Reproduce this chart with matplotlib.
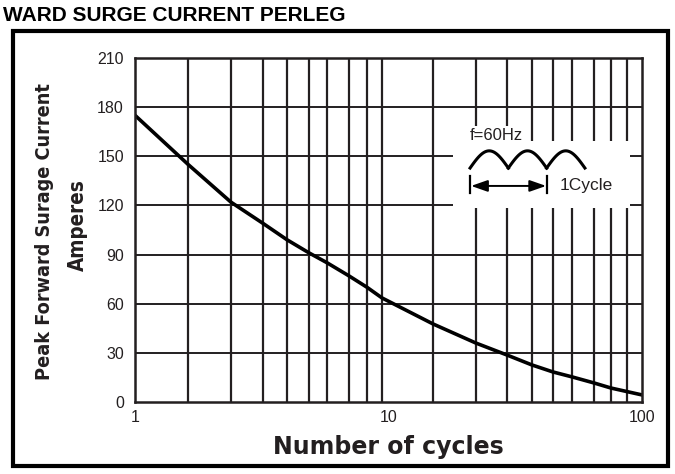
import numpy as np
import matplotlib
matplotlib.use("Agg")
import matplotlib.pyplot as plt
from matplotlib.patches import Rectangle

# surge current vs number of cycles
cycles = [1, 1.62, 2.39, 3.2, 3.98, 4.86, 5.72, 6.98, 8.23, 9.43,
          15.0, 22.1, 29.3, 36.8, 44.6, 53.0, 64.7, 75.5, 100]
amps = [175, 145, 122, 109, 99, 91, 85, 77, 70, 63.5,
        47.6, 36, 28.7, 22.6, 18.3, 15.3, 11.6, 8.5, 4.3]

# vertical grid lines as drawn on the sheet (not a clean log grid)
grid_cycles = [1.62, 2.39, 3.2, 3.98, 4.86, 5.72, 6.98, 8.23, 9.43,
               15.0, 22.1, 29.3, 36.8, 44.6, 53.0, 64.7, 75.5, 87.3]
grid_amps = [30, 60, 90, 120, 150, 180]

y_ticks = [0, 30, 60, 90, 120, 150, 180, 210]
x_ticks = [1, 10, 100]
x_labels = ["1", "10", "100"]

ink = "#231f20"

fig = plt.figure(figsize=(6.75, 4.74), dpi=100)
ax = fig.add_axes([0.2, 0.152, 0.751, 0.7257])

ax.set_xscale("log")
ax.set_xlim(1, 100)
ax.set_ylim(0, 210)

for g in grid_cycles:
    ax.axvline(g, color=ink, lw=1.6, zorder=1)
for g in grid_amps:
    ax.axhline(g, color=ink, lw=1.4, zorder=1)

ax.plot(cycles, amps, color="black", lw=2.6, zorder=5)

# inset: full-wave rectified sketch, 60 Hz
ax.add_patch(Rectangle((0.627, 0.565), 0.35, 0.194, transform=ax.transAxes,
                       facecolor="white", edgecolor="none", zorder=2))
ax.text(0.661, 0.776, "f=60Hz", transform=ax.transAxes, fontsize=12,
        family="Liberation Sans", color=ink, va="center", ha="left", zorder=3,
        bbox=dict(facecolor="white", edgecolor="none", pad=1.5))
t = np.linspace(0, 1, 40)
hump_w = 0.0755
for k in range(3):
    x0 = 0.661 + k * hump_w
    ax.plot(x0 + t * hump_w, 0.680 + 0.05 * np.sin(np.pi * t),
            transform=ax.transAxes, color="black", lw=2.2, zorder=3)
ax.plot([0.661, 0.661], [0.608, 0.657], transform=ax.transAxes,
        color="black", lw=1.6, zorder=3)
ax.plot([0.813, 0.813], [0.608, 0.657], transform=ax.transAxes,
        color="black", lw=1.6, zorder=3)
ax.annotate("", xy=(0.811, 0.628), xytext=(0.663, 0.628),
            xycoords="axes fraction", textcoords="axes fraction",
            arrowprops=dict(arrowstyle="<|-|>,head_length=1.0,head_width=0.35",
                            color="black", lw=1.4, shrinkA=0, shrinkB=0),
            zorder=3)
ax.text(0.838, 0.628, "1Cycle", transform=ax.transAxes, fontsize=12.5,
        family="Liberation Sans", color=ink, va="center", ha="left", zorder=3)

ax.set_yticks(y_ticks)
ax.set_xticks(x_ticks)
ax.set_xticklabels(x_labels)
ax.xaxis.set_minor_locator(matplotlib.ticker.NullLocator())
ax.tick_params(length=0, labelsize=11.5, labelcolor=ink, pad=8)
ax.tick_params(axis="x", pad=6)
for lab in ax.get_xticklabels() + ax.get_yticklabels():
    lab.set_family("Liberation Sans")
for s in ax.spines.values():
    s.set_color(ink)
    s.set_linewidth(1.8)
    s.set_zorder(6)

ax.set_xlabel("Number of cycles", fontsize=17, fontweight="bold",
              family="DejaVu Sans", color=ink, labelpad=7)
fig.text(0.066, 0.511, "Peak Forward Surage Current", rotation=90,
         fontsize=14.2, fontweight="bold", family="DejaVu Sans", stretch="condensed",
         color=ink, ha="center", va="center")
fig.text(0.116, 0.525, "Amperes", rotation=90,
         fontsize=14.8, fontweight="bold", family="DejaVu Sans", stretch="condensed",
         color=ink, ha="center", va="center")

fig.text(0.004, 0.968, "WARD SURGE CURRENT PERLEG", fontsize=15,
         fontweight="bold", family="Liberation Sans", color="black",
         ha="left", va="center")

fig.add_artist(Rectangle((0.0193, 0.0169), 0.9703, 0.9177,
                         transform=fig.transFigure, fill=False,
                         edgecolor="black", lw=3))

fig.savefig("out.png", dpi=100)
